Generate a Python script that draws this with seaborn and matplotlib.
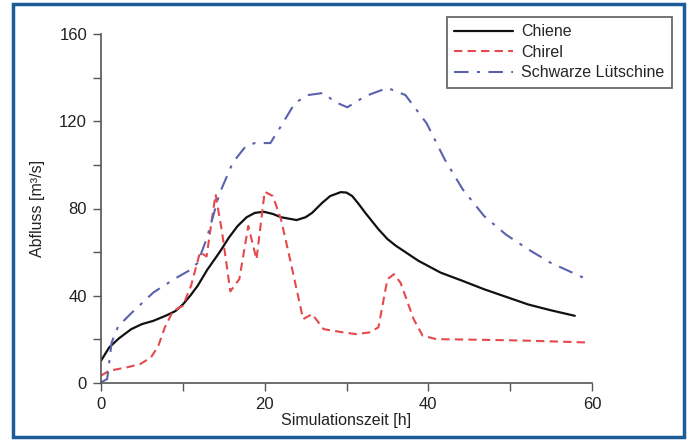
import matplotlib
matplotlib.use("Agg")
import matplotlib.pyplot as plt
import seaborn as sns
import pandas as pd
from matplotlib.patches import Rectangle

# ---- data ----
chiene_t = [0, 1, 2.2, 3.7, 5, 6.4, 8, 9.1, 10, 10.9, 11.8, 13, 14.5, 15.6, 16.7, 17.8, 18.8, 19.9,
            21, 22, 23.9, 25, 25.8, 27, 28, 29.3, 30, 30.7, 31.5, 32.3, 33.9, 35, 36, 38.8, 41.5,
            44.2, 46.8, 49.5, 52.2, 54.9, 57.9]
chiene_q = [10.2, 16.3, 20.5, 24.7, 27, 28.5, 31, 33, 36, 40, 44.5, 52, 60, 66.5, 72, 76, 78, 78.5,
            77.5, 76, 74.7, 76, 78, 82.5, 85.7, 87.5, 87.3, 85.7, 82, 78, 70.5, 66, 63, 56, 50.6,
            46.8, 43, 39.5, 36, 33.4, 30.8]

chirel_t = [0, 1, 3.2, 4.8, 6.1, 7, 7.8, 8.8, 10, 11, 12.1, 12.9, 14, 14.8, 15.8, 16.9, 18, 19,
            20, 21, 22, 23.1, 24.7, 25.8, 27.2, 29.6, 31.2, 32.8, 33.9, 35, 35.8, 36.6, 38.2,
            39.3, 41, 46.8, 52.2, 59.2]
chirel_q = [3.4, 5.6, 7.2, 8.7, 11.7, 17, 25.5, 33, 35.4, 44.5, 60, 58, 86.5, 69, 42, 47.6, 72,
            56.7, 87.7, 85.7, 75, 56.7, 29.3, 31.6, 24.7, 23.2, 22.4, 23.2, 25.5, 47.6, 49.9, 46,
            29.3, 21.7, 20.1, 19.8, 19.4, 18.6]

lue_t = [0, 0.75, 1.3, 2.1, 3.7, 6.4, 9.1, 10.7, 11.8, 12.9, 14.5, 16.1, 17.7, 18.8, 20.7, 22,
         23.7, 25.3, 27.2, 28.5, 30.1, 32.3, 35, 37.2, 39.8, 42, 44.2, 46.8, 49.5, 52.2, 54.9,
         57.6, 59.8]
lue_q = [0.3, 1.8, 18.6, 26, 32, 41.5, 48, 51.4, 55, 66, 87, 101, 108.6, 110, 110, 117.8,
         128.4, 132, 133, 129, 126.4, 131.5, 135.3, 132, 119, 102.5, 88.8, 76.6, 68, 61.3,
         55.2, 50.6, 46.8]

series_names = ["Chiene", "Chirel", "Schwarze Lütschine"]
x_ticks = [0, 20, 40, 60]
y_ticks = [0, 40, 80, 120, 160]

sns.set_theme(style="white")
plt.rcParams['font.family'] = ['Liberation Sans', 'DejaVu Sans']

fig = plt.figure(figsize=(6.89, 4.41), dpi=100)
fig.patch.set_facecolor("white")
# blue frame around the figure
fig.patches.append(Rectangle((13 / 689, 4 / 441), (684 - 13) / 689, (437 - 4) / 441,
                             transform=fig.transFigure, fill=False,
                             edgecolor="#1b5b98", linewidth=2.5, zorder=0))

ax = fig.add_axes([101 / 689, (441 - 383) / 441, (592 - 101) / 689, (383 - 34) / 441])
ax.set_facecolor("white")

df_c = pd.DataFrame({"t": chiene_t, "q": chiene_q})
df_r = pd.DataFrame({"t": chirel_t, "q": chirel_q})
df_l = pd.DataFrame({"t": lue_t, "q": lue_q})

sns.lineplot(data=df_c, x="t", y="q", ax=ax, color="#111111", linewidth=1.6,
             label=series_names[0], sort=False)
sns.lineplot(data=df_r, x="t", y="q", ax=ax, color="#e5484d", linewidth=1.5,
             label=series_names[1], sort=False, linestyle=(0, (4, 2.5)))
sns.lineplot(data=df_l, x="t", y="q", ax=ax, color="#5a62ae", linewidth=1.5,
             label=series_names[2], sort=False, linestyle=(0, (7, 4, 1.5, 4)))

ax.set_xlim(0, 60)
ax.set_ylim(0, 160)
ax.set_xticks(x_ticks)
ax.set_yticks(y_ticks)
ax.set_xticks([10, 30, 50], minor=True)
ax.set_yticks([20, 60, 100, 140], minor=True)
ax.tick_params(axis="both", which="both", direction="out", length=6, width=1,
               color="#555555", labelsize=12, labelcolor="#222222",
               bottom=True, left=True, pad=4)
for s in ["top", "right"]:
    ax.spines[s].set_visible(False)
for s in ["left", "bottom"]:
    ax.spines[s].set_color("#555555")
    ax.spines[s].set_linewidth(1.2)

ax.set_xlabel("Simulationszeit [h]", fontsize=11.5, color="#222222", labelpad=1)
ax.set_ylabel("Abfluss [m³/s]", fontsize=11.5, color="#222222", labelpad=10)

leg = ax.legend(loc="upper left", bbox_to_anchor=(447 / 689, 1 - 17 / 441),
                bbox_transform=fig.transFigure, frameon=True, fancybox=False,
                edgecolor="#444444", fontsize=11.5, handlelength=3.7, borderpad=0.45,
                labelspacing=0.35, handletextpad=0.5, borderaxespad=0)
leg.get_frame().set_linewidth(1.3)
leg.get_frame().set_boxstyle("square", pad=0)

fig.savefig("out.png", dpi=100)
